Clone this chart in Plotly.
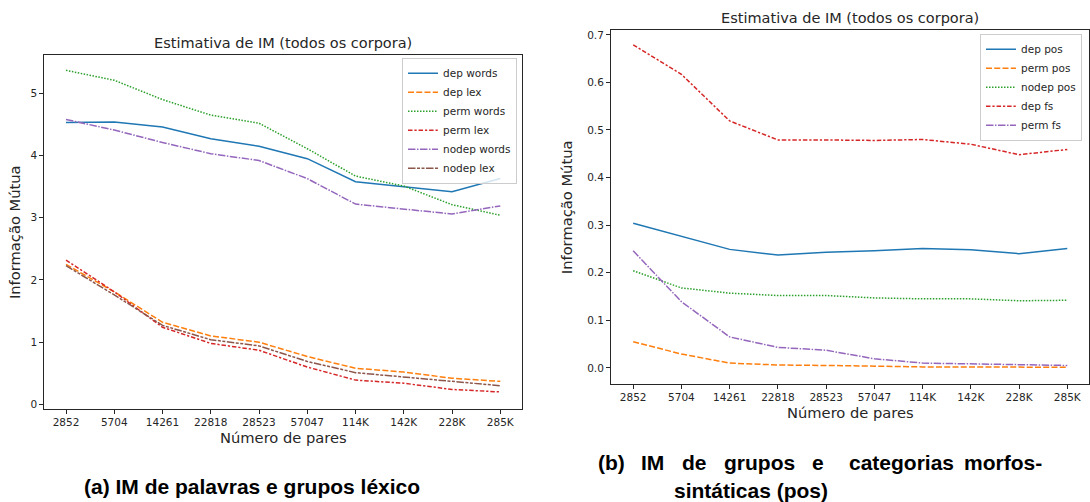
import plotly.graph_objects as go

# ---------------- data ----------------
categories = ["2852", "5704", "14261", "22818", "28523", "57047", "114K", "142K", "228K", "285K"]

# (a) words / lexical groups
dep_words = [4.53, 4.54, 4.46, 4.27, 4.15, 3.95, 3.58, 3.50, 3.42, 3.63]
dep_lex = [2.25, 1.81, 1.32, 1.10, 1.00, 0.77, 0.58, 0.52, 0.42, 0.37]
perm_words = [5.37, 5.21, 4.90, 4.65, 4.52, 4.11, 3.67, 3.51, 3.21, 3.04]
perm_lex = [2.32, 1.81, 1.24, 0.98, 0.87, 0.60, 0.39, 0.34, 0.24, 0.20]
nodep_words = [4.58, 4.41, 4.21, 4.03, 3.92, 3.63, 3.22, 3.14, 3.06, 3.19]
nodep_lex = [2.23, 1.76, 1.27, 1.04, 0.94, 0.69, 0.51, 0.44, 0.36, 0.30]

# (b) groups / POS
dep_pos = [0.304, 0.276, 0.249, 0.237, 0.243, 0.246, 0.251, 0.248, 0.240, 0.251]
perm_pos = [0.055, 0.029, 0.010, 0.006, 0.005, 0.003, 0.002, 0.002, 0.001, 0.001]
nodep_pos = [0.204, 0.168, 0.157, 0.152, 0.152, 0.147, 0.145, 0.145, 0.141, 0.142]
dep_fs = [0.679, 0.617, 0.519, 0.479, 0.479, 0.478, 0.480, 0.470, 0.448, 0.459]
perm_fs = [0.246, 0.139, 0.065, 0.043, 0.037, 0.019, 0.010, 0.008, 0.006, 0.005]

left_names = ["dep words", "dep lex", "perm words", "perm lex", "nodep words", "nodep lex"]
right_names = ["dep pos", "perm pos", "nodep pos", "dep fs", "perm fs"]

# ---------------- styles ----------------
W, H = 1090, 502
COLORS = ["#1f77b4", "#ff7f0e", "#2ca02c", "#d62728", "#9467bd", "#8c564b"]
DASHES = ["solid", "6px,2.25px", "1.5px,1.5px", "4.5px,1.9px,2.25px,1.9px",
          "7.5px,1.5px,1.5px,1.5px", "7.5px,1.5px,3px,1.5px,3px,1.5px"]
TXT = "#262626"
FONT = "DejaVu Sans"


def px(x):
    return x / W


def py(y):
    return 1 - y / H


fig = go.Figure()

left_vals = [dep_words, dep_lex, perm_words, perm_lex, nodep_words, nodep_lex]
for i, (name, vals) in enumerate(zip(left_names, left_vals)):
    fig.add_trace(go.Scatter(
        x=categories, y=vals, name=name, mode="lines",
        line=dict(color=COLORS[i], width=1.5, dash=DASHES[i]),
        xaxis="x", yaxis="y", legend="legend"))

right_vals = [dep_pos, perm_pos, nodep_pos, dep_fs, perm_fs]
for i, (name, vals) in enumerate(zip(right_names, right_vals)):
    fig.add_trace(go.Scatter(
        x=categories, y=vals, name=name, mode="lines",
        line=dict(color=COLORS[i], width=1.5, dash=DASHES[i]),
        xaxis="x2", yaxis="y2", legend="legend2"))

axis_common = dict(
    showline=True, mirror=True, linecolor=TXT, linewidth=1,
    ticks="outside", ticklen=4, tickwidth=1, tickcolor=TXT,
    showgrid=False, zeroline=False,
    tickfont=dict(family=FONT, size=10.5, color=TXT),
)

legend_common = dict(
    xanchor="right", yanchor="top",
    bordercolor="#cccccc", borderwidth=1, bgcolor="rgba(255,255,255,0.8)",
    font=dict(family=FONT, size=10.5, color=TXT),
    itemwidth=30, tracegroupgap=0,
)

annotations = []


def ann(text, x, y, size, rot=0, xanchor="center", bold=False, family=FONT, color=TXT):
    annotations.append(dict(
        text=text, x=px(x), y=py(y), xref="paper", yref="paper",
        xanchor=xanchor, yanchor="middle", showarrow=False, textangle=rot,
        font=dict(family=family, size=size, color=color,
                  weight="bold" if bold else "normal")))


# panel titles / axis titles
ann("Estimativa de IM (todos os corpora)", 283, 42.5, 14.5)
ann("Estimativa de IM (todos os corpora)", 850, 17, 14.5)
ann("Número de pares", 283, 438.5, 14.7)
ann("Número de pares", 850, 413.5, 14.7)
ann("Informação Mútua", 14, 232, 14.7, rot=-90)
ann("Informação Mútua", 566, 207, 14.7, rot=-90)

# captions
CAP = "Liberation Sans"
ann("(a) IM de palavras e grupos léxico", 252, 487, 21, bold=True, family=CAP, color="#000000")
cap_words = [("(b)", 595.5), ("IM", 639.4), ("de", 680), ("grupos", 722.3),
             ("e", 810), ("categorias", 847.4), ("morfos-", 962.3)]
for w, x in cap_words:
    ann(w, x, 463, 21, xanchor="left", bold=True, family=CAP, color="#000000")
ann("sintáticas (pos)", 671.6, 491, 21, xanchor="left", bold=True, family=CAP, color="#000000")

fig.update_layout(
    width=W, height=H, autosize=False,
    margin=dict(l=0, r=0, t=0, b=0),
    paper_bgcolor="white", plot_bgcolor="white",
    xaxis=dict(domain=[px(44.3), px(522)], anchor="y", type="category",
               range=[-0.45, 9.45], **axis_common),
    yaxis=dict(domain=[py(409.3), py(54)], anchor="x",
               range=[-0.069, 5.62], tickvals=[0, 1, 2, 3, 4, 5], **axis_common),
    xaxis2=dict(domain=[px(611), px(1089)], anchor="y2", type="category",
                range=[-0.46, 9.45], **axis_common),
    yaxis2=dict(domain=[py(384.3), py(29)], anchor="x2",
                range=[-0.0335, 0.7104], tickvals=[0, 0.1, 0.2, 0.3, 0.4, 0.5, 0.6, 0.7],
                tickformat=".1f", **axis_common),
    legend=dict(x=px(517), y=py(57), **legend_common),
    legend2=dict(x=px(1082), y=py(33), **legend_common),
    annotations=annotations,
    showlegend=True,
)

fig.write_html(
    "out.html",
    config={"displayModeBar": False},
    post_script="document.body.style.margin='0';document.body.style.overflow='hidden';",
)
